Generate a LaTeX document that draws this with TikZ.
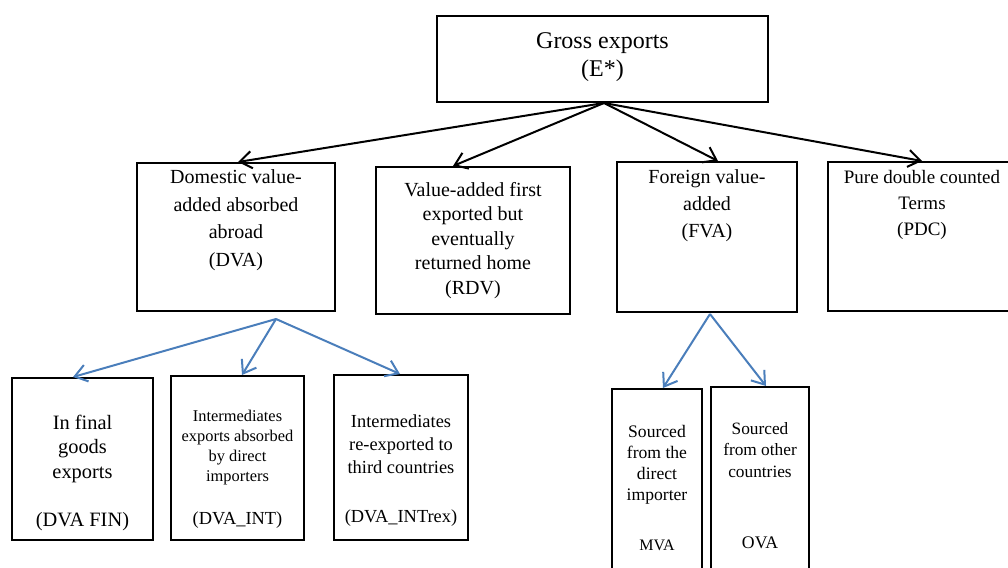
\documentclass[tikz,border=0pt]{standalone}
\usepackage{fontspec}
\setmainfont{Liberation Serif}
\usetikzlibrary{arrows.meta}
\definecolor{arrowblue}{RGB}{74,126,187}
\newcommand{\boxtext}[4]{\parbox[c][#2pt][t]{#1pt}{\centering\vspace*{#3pt}#4}}
\tikzset{
  box/.style={draw=black, line width=2pt, inner sep=0pt, fill=white},
  blackarrow/.style={draw=black, line width=2pt, -{Straight Barb[length=12pt,width=17pt]}},
  bluearrow/.style={draw=arrowblue, line width=2pt, -{Straight Barb[length=12pt,width=17pt]}}
}
\begin{document}
\begin{tikzpicture}[x=1pt, y=-1pt]
\clip (0,0) rectangle (1008,567);
\fill[white] (0,0) rectangle (1008,567);
% top
\node[box, font=\fontsize{24}{28}\selectfont] (g) at (602.5,59) {\boxtext{331}{86}{17}{Gross exports\\(E*)}};
% middle
\node[box, font=\fontsize{20}{27.5}\selectfont] (dva) at (236,237) {\boxtext{198}{148}{7}{Domestic value-\\added absorbed\\abroad\\(DVA)}};
\node[box, font=\fontsize{20}{24.5}\selectfont] (rdv) at (473,240.5) {\boxtext{194}{147}{15}{Value-added first\\exported but\\eventually\\returned home\\(RDV)}};
\node[box, font=\fontsize{20}{27}\selectfont] (fva) at (707,237) {\boxtext{180}{150}{8}{Foreign value-\\added\\(FVA)}};
\node[box, font=\fontsize{19}{26}\selectfont] (pdc) at (922,236.5) {\boxtext{188}{149}{8}{Pure double counted\\Terms\\(PDC)}};
% bottom
\node[box, font=\fontsize{20.4}{24.5}\selectfont] (fin) at (82.5,459) {\boxtext{141}{162}{37}{In final\\goods\\exports\\[24pt](DVA FIN)}};
\node[box, font=\fontsize{16.4}{20}\selectfont] (int) at (237.5,458) {\boxtext{133}{164}{34}{Intermediates\\exports absorbed\\by direct\\importers\\[23pt]{\fontsize{18.4}{20}\selectfont (DVA\_INT)}}};
\node[box, font=\fontsize{18.4}{23}\selectfont] (intrex) at (401,457.5) {\boxtext{134}{165}{40}{Intermediates\\re-exported to\\third countries\\[26pt](DVA\_INTrex)}};
\node[box, font=\fontsize{17.6}{21}\selectfont] (mva) at (657,484.5) {\boxtext{90}{191}{36}{Sourced\\from the\\direct\\importer\\[29pt]{\fontsize{16}{21}\selectfont MVA}}};
\node[box, font=\fontsize{17.3}{21.5}\selectfont] (ova) at (760,483.5) {\boxtext{98}{193}{35}{Sourced\\from other\\countries\\[49.5pt]{\fontsize{17.7}{21.5}\selectfont OVA}}};
% black arrows
\draw[blackarrow] ([xshift=1.5pt]g.south) -- ([xshift=2pt]dva.north);
\draw[blackarrow] ([xshift=1.5pt]g.south) -- ([xshift=-20pt]rdv.north);
\draw[blackarrow] ([xshift=1.5pt]g.south) -- ([xshift=11pt]fva.north);
\draw[blackarrow] ([xshift=1.5pt]g.south) -- (pdc.north);
% blue arrows
\coordinate (dvafork) at ([xshift=40pt,yshift=-7pt]dva.south);
\coordinate (fvafork) at ([xshift=3pt,yshift=-1pt]fva.south);
\draw[bluearrow] (dvafork) -- ([xshift=-9.5pt]fin.north);
\draw[bluearrow] (dvafork) -- ([xshift=4.5pt]int.north);
\draw[bluearrow] (dvafork) -- ([xshift=-1pt]intrex.north);
\draw[bluearrow] (fvafork) -- ([xshift=6pt]mva.north);
\draw[bluearrow] (fvafork) -- ([xshift=6pt]ova.north);
\end{tikzpicture}
\end{document}
